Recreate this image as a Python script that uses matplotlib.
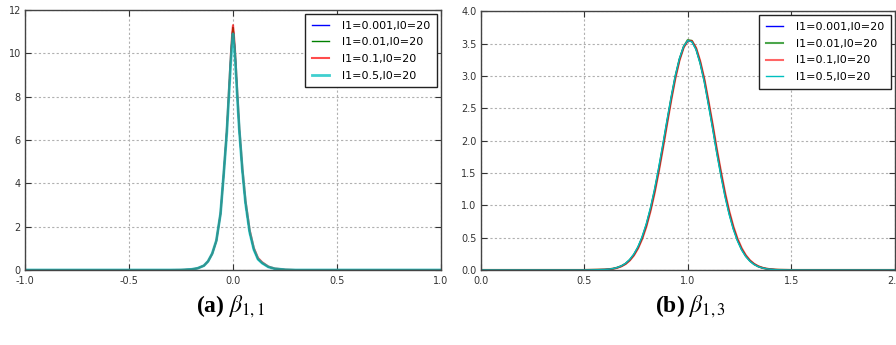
import matplotlib.pyplot as plt
import numpy as np

# posterior densities, panel (a): beta_{1,1}
x_a = [-1.0, -0.30, -0.25, -0.20, -0.17, -0.14, -0.12, -0.10, -0.08, -0.06,
       -0.045, -0.03, -0.02, -0.01, -0.004, 0.0, 0.004, 0.01, 0.02, 0.03,
       0.045, 0.06, 0.08, 0.10, 0.12, 0.14, 0.17, 0.20, 0.25, 0.30, 1.0]
y_a_001 = [0.0, 0.0, 0.005, 0.03, 0.08, 0.2, 0.4, 0.75, 1.35, 2.6,
           4.4, 6.4, 8.1, 9.9, 10.8, 11.2, 10.8, 10.0, 8.2, 6.5,
           4.6, 3.1, 1.75, 0.95, 0.5, 0.32, 0.14, 0.06, 0.015, 0.0, 0.0]
y_a_01 = [0.0, 0.0, 0.005, 0.03, 0.08, 0.2, 0.4, 0.75, 1.35, 2.6,
          4.4, 6.4, 8.1, 9.9, 10.8, 11.2, 10.8, 10.0, 8.2, 6.5,
          4.6, 3.1, 1.75, 0.95, 0.5, 0.32, 0.14, 0.06, 0.015, 0.0, 0.0]
y_a_1 = [0.0, 0.0, 0.005, 0.03, 0.08, 0.2, 0.4, 0.75, 1.35, 2.6,
         4.4, 6.4, 8.2, 10.0, 10.9, 11.3, 10.9, 10.1, 8.3, 6.6,
         4.7, 3.2, 1.85, 1.02, 0.56, 0.36, 0.16, 0.07, 0.02, 0.0, 0.0]
y_a_5 = [0.0, 0.0, 0.005, 0.03, 0.08, 0.2, 0.4, 0.76, 1.36, 2.6,
         4.4, 6.3, 8.0, 9.7, 10.5, 10.9, 10.5, 9.8, 8.1, 6.5,
         4.6, 3.1, 1.75, 0.95, 0.5, 0.32, 0.14, 0.06, 0.015, 0.0, 0.0]

# panel (b): beta_{1,3}
x_b = [0.0, 0.5, 0.60, 0.62, 0.64, 0.66, 0.68, 0.70, 0.72, 0.74, 0.76, 0.78,
       0.80, 0.82, 0.84, 0.86, 0.88, 0.90, 0.92, 0.94, 0.96, 0.98, 1.00,
       1.02, 1.04, 1.06, 1.08, 1.10, 1.12, 1.14, 1.16, 1.18, 1.20, 1.22,
       1.24, 1.26, 1.28, 1.30, 1.32, 1.34, 1.36, 1.38, 1.40, 1.42, 1.44,
       1.5, 2.0]
y_b_001 = [0.0, 0.0, 0.007, 0.012, 0.021, 0.037, 0.061, 0.098, 0.155, 0.236,
           0.348, 0.499, 0.693, 0.936, 1.223, 1.555, 1.914, 2.29, 2.654, 2.99,
           3.26, 3.452, 3.547, 3.537, 3.421, 3.21, 2.93, 2.582, 2.22, 1.84,
           1.49, 1.162, 0.883, 0.65, 0.465, 0.322, 0.217, 0.142, 0.09, 0.055,
           0.033, 0.019, 0.011, 0.006, 0.003, 0.0, 0.0]
y_b_01 = [0.0, 0.0, 0.007, 0.012, 0.021, 0.037, 0.061, 0.098, 0.155, 0.236,
          0.348, 0.499, 0.693, 0.936, 1.223, 1.555, 1.914, 2.29, 2.654, 2.99,
          3.26, 3.452, 3.56, 3.545, 3.425, 3.21, 2.93, 2.582, 2.22, 1.84,
          1.49, 1.162, 0.883, 0.65, 0.465, 0.322, 0.217, 0.142, 0.09, 0.055,
          0.033, 0.019, 0.011, 0.006, 0.003, 0.0, 0.0]
y_b_1 = [0.0, 0.0, 0.006, 0.011, 0.019, 0.034, 0.057, 0.092, 0.146, 0.224,
         0.332, 0.478, 0.667, 0.905, 1.188, 1.515, 1.874, 2.25, 2.62, 2.96,
         3.24, 3.44, 3.545, 3.545, 3.44, 3.235, 2.96, 2.62, 2.26, 1.88,
         1.53, 1.20, 0.915, 0.677, 0.487, 0.34, 0.23, 0.151, 0.096, 0.059,
         0.035, 0.02, 0.012, 0.006, 0.003, 0.0, 0.0]
y_b_5 = [0.0, 0.0, 0.007, 0.013, 0.022, 0.039, 0.064, 0.103, 0.163, 0.247,
         0.362, 0.518, 0.716, 0.963, 1.255, 1.59, 1.95, 2.32, 2.68, 3.01,
         3.275, 3.46, 3.55, 3.53, 3.41, 3.19, 2.905, 2.55, 2.185, 1.805,
         1.455, 1.13, 0.855, 0.627, 0.447, 0.308, 0.207, 0.135, 0.085, 0.052,
         0.031, 0.018, 0.010, 0.005, 0.003, 0.0, 0.0]

labels = ['l1=0.001,l0=20', 'l1=0.01,l0=20', 'l1=0.1,l0=20', 'l1=0.5,l0=20']

fig = plt.figure(figsize=(8.96, 3.45), dpi=100)
ax1 = fig.add_axes([0.0279, 0.2174, 0.4643, 0.7536])
ax2 = fig.add_axes([0.5363, 0.2174, 0.4626, 0.7493])

styles_a = [dict(color='b', lw=1.0), dict(color='g', lw=1.0),
            dict(color='r', lw=1.5, alpha=0.7), dict(color='c', lw=2.0, alpha=0.75)]
styles_b = [dict(color='b', lw=1.0), dict(color='g', lw=1.5, alpha=0.7),
            dict(color='r', lw=1.5, alpha=0.6), dict(color='c', lw=1.0)]

for y, lab, st in zip([y_a_001, y_a_01, y_a_1, y_a_5], labels, styles_a):
    ax1.plot(x_a, y, label=lab, **st)
for y, lab, st in zip([y_b_001, y_b_01, y_b_1, y_b_5], labels, styles_b):
    ax2.plot(x_b, y, label=lab, **st)

ax1.set_xlim(-1.0, 1.0)
ax1.set_ylim(0, 12)
ax1.set_xticks(np.arange(-1.0, 1.01, 0.5))
ax1.set_yticks(np.arange(0, 13, 2))
ax1.set_xticklabels(['%.1f' % v for v in np.arange(-1.0, 1.01, 0.5)])
ax2.set_xlim(0.0, 2.0)
ax2.set_ylim(0.0, 4.0)
ax2.set_xticks(np.arange(0.0, 2.01, 0.5))
ax2.set_yticks(np.arange(0.0, 4.01, 0.5))
ax2.set_yticklabels(['%.1f' % v for v in np.arange(0.0, 4.01, 0.5)])
ax2.set_xticklabels(['%.1f' % v for v in np.arange(0.0, 2.01, 0.5)])

for ax in (ax1, ax2):
    ax.grid(True, color='#b0b0b0', linestyle=(0, (2, 2)), linewidth=0.8)
    ax.tick_params(direction='in', top=True, right=True, labelsize=7,
                   length=4, colors='#333333')
    ax.tick_params(axis='x', pad=4)
    ax.tick_params(axis='y', pad=3)
    for s in ax.spines.values():
        s.set_color('#444444')
        s.set_linewidth(1.0)
    leg = ax.legend(loc='upper right', fontsize=8, fancybox=False,
                    framealpha=1, edgecolor='#222222', handlelength=1.5,
                    handletextpad=1.2, labelspacing=0.6, borderaxespad=0.36,
                    borderpad=0.6)
    leg.get_frame().set_linewidth(1.0)

fig.text(0.257, 0.11, r'(a) $\beta_{1,1}$', ha='center', va='center',
         fontsize=17, family='Liberation Serif', fontweight='bold',
         math_fontfamily='stix')
fig.text(0.77, 0.11, r'(b) $\beta_{1,3}$', ha='center', va='center',
         fontsize=17, family='Liberation Serif', fontweight='bold',
         math_fontfamily='stix')

fig.savefig('out.png', dpi=100)
